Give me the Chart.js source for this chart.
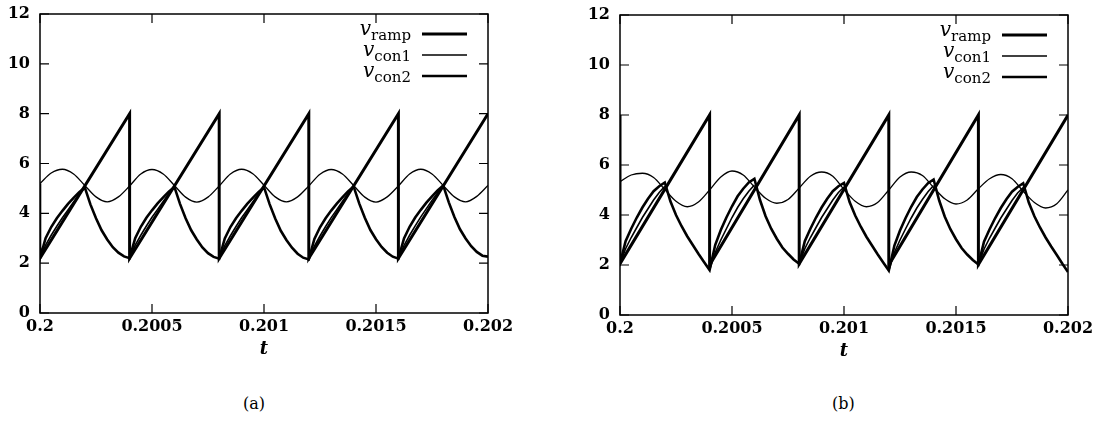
<!DOCTYPE html>
<html>
<head>
<meta charset="utf-8">
<script src="https://cdn.jsdelivr.net/npm/chart.js@4.4.1/dist/chart.umd.min.js"></script>
<style>
  body { margin: 0; background: #fff; width: 1094px; height: 427px; overflow: hidden; position: relative; }
  .panel { position: absolute; top: 0; }
  .cap { position: absolute; top: 394px; font: 16px "DejaVu Serif", serif; color: #000; }
</style>
</head>
<body>
<div class="panel" style="left:0px"><canvas id="chartA" width="540" height="380"></canvas></div>
<div class="panel" style="left:580px"><canvas id="chartB" width="514" height="382"></canvas></div>
<div class="cap" style="left:243px">(a)</div>
<div class="cap" style="left:832px">(b)</div>
<script>
/***************************************************/
/******************** DATA *************************/
/***************************************************/
const xTicks = [0.2, 0.2005, 0.201, 0.2015, 0.202];
const xTickLabels = ['0.2', '0.2005', '0.201', '0.2015', '0.202'];
const yTicks = [0, 2, 4, 6, 8, 10, 12];
const yTickLabels = ['0', '2', '4', '6', '8', '10', '12'];

// sampling of the curves
const T0 = 0.2;
const STEP_FINE = 0.000025;   // v_con2 and the thin branch
const STEP_CON1 = 0.00005;    // v_con1

// panel (a)
const rampTa = [0.2, 0.2004, 0.2004, 0.2008, 0.2008, 0.2012, 0.2012, 0.2016, 0.2016, 0.202];
const rampVa = [2.2, 8.0, 2.2, 8.0, 2.2, 8.0, 2.2, 8.0, 2.2, 8.0];
const con2aStart = 5.2;
const con2a = [
  2.2, 3.0, 3.45, 3.8, 4.1, 4.38, 4.62, 4.85, 5.04, 4.36, 3.8, 3.32, 2.95, 2.64, 2.42, 2.27,
  2.2, 3.0, 3.46, 3.82, 4.12, 4.4, 4.64, 4.87, 5.06, 4.38, 3.8, 3.32, 2.95, 2.63, 2.4, 2.25,
  2.18, 2.99, 3.45, 3.8, 4.1, 4.38, 4.62, 4.85, 5.05, 4.37, 3.79, 3.3, 2.93, 2.62, 2.38, 2.22,
  2.15, 2.97, 3.44, 3.8, 4.11, 4.39, 4.64, 4.88, 5.08, 4.4, 3.82, 3.33, 2.96, 2.65, 2.42, 2.26,
  2.18, 2.99, 3.46, 3.83, 4.14, 4.43, 4.68, 4.92, 5.12, 4.44, 3.85, 3.36, 2.99, 2.68, 2.45, 2.3,
  2.26
];
const branchA = [
  2.2, 2.72, 3.12, 3.48, 3.82, 4.14, 4.46, 4.77, 5.04, null, null, null, null, null, null, null,
  2.2, 2.72, 3.12, 3.49, 3.84, 4.16, 4.48, 4.79, 5.06, null, null, null, null, null, null, null,
  2.18, 2.7, 3.1, 3.47, 3.82, 4.14, 4.46, 4.77, 5.05, null, null, null, null, null, null, null,
  2.15, 2.68, 3.09, 3.47, 3.83, 4.15, 4.48, 4.79, 5.08, null, null, null, null, null, null, null,
  2.18, 2.71, 3.12, 3.5, 3.86, 4.19, 4.52, 4.83, 5.12, null, null, null, null, null, null, null,
  null
];
const con1a = [
  5.2, 5.62, 5.77, 5.58, 5.12, 4.66, 4.46, 4.66,
  5.1, 5.58, 5.76, 5.58, 5.12, 4.65, 4.45, 4.65,
  5.1, 5.58, 5.77, 5.59, 5.13, 4.66, 4.46, 4.66,
  5.1, 5.57, 5.76, 5.58, 5.12, 4.65, 4.45, 4.66,
  5.1, 5.58, 5.77, 5.58, 5.12, 4.66, 4.46, 4.68,
  5.12
];

// panel (b)
const rampTb = [0.2, 0.2, 0.2004, 0.2004, 0.2008, 0.2008, 0.2012, 0.2012, 0.2016, 0.2016, 0.202];
const rampVb = [8.0, 2.05, 8.0, 2.0, 8.0, 2.05, 8.0, 2.0, 8.0, 2.02, 8.0];
const con2b = [
  2.05, 2.95, 3.45, 3.9, 4.3, 4.65, 4.95, 5.15, 5.3, 4.55, 4.0, 3.55, 3.15, 2.8, 2.45, 2.12,
  1.8, 2.8, 3.4, 3.9, 4.35, 4.75, 5.05, 5.3, 5.45, 4.6, 3.95, 3.45, 3.05, 2.7, 2.45, 2.22,
  2.05, 2.95, 3.45, 3.9, 4.3, 4.65, 4.95, 5.15, 5.28, 4.52, 3.98, 3.53, 3.13, 2.78, 2.43, 2.1,
  1.78, 2.78, 3.38, 3.88, 4.33, 4.72, 5.02, 5.27, 5.42, 4.58, 3.93, 3.43, 3.03, 2.68, 2.42, 2.2,
  2.02, 2.93, 3.43, 3.88, 4.28, 4.63, 4.93, 5.12, 5.27, 4.5, 3.95, 3.5, 3.1, 2.74, 2.4, 2.05,
  1.72
];
const branchB = [
  2.05, 2.65, 3.1, 3.5, 3.9, 4.25, 4.6, 4.9, 5.15, null, null, null, null, null, null, null,
  1.8, 2.5, 3.0, 3.45, 3.9, 4.3, 4.65, 4.95, 5.2, null, null, null, null, null, null, null,
  2.05, 2.65, 3.1, 3.5, 3.9, 4.25, 4.6, 4.9, 5.12, null, null, null, null, null, null, null,
  1.78, 2.5, 3.0, 3.45, 3.88, 4.28, 4.62, 4.93, 5.18, null, null, null, null, null, null, null,
  2.02, 2.63, 3.08, 3.48, 3.88, 4.23, 4.58, 4.88, 5.1, null, null, null, null, null, null, null,
  null
];
const con1b = [
  5.33, 5.6, 5.67, 5.5, 5.02, 4.55, 4.33, 4.52,
  5.0, 5.52, 5.76, 5.6, 5.12, 4.67, 4.47, 4.62,
  5.08, 5.55, 5.72, 5.55, 5.02, 4.55, 4.33, 4.5,
  5.0, 5.52, 5.72, 5.58, 5.1, 4.65, 4.44, 4.6,
  5.05, 5.45, 5.62, 5.45, 4.95, 4.5, 4.28, 4.45,
  5.0
];

const legendNames = ['ramp', 'con1', 'con2'];
const legendWidths = [3, 1.4, 2.6];

/***************************************************/
/******************** HELPERS **********************/
/***************************************************/
const FONT = '"DejaVu Serif", serif';

function sampled(values, step) {
    return values.map((v, i) => ({ x: T0 + i * step, y: v }));
}

function paired(ts, vs) {
    return ts.map((t, i) => ({ x: t, y: vs[i] }));
}

// box, inward ticks on all four sides, and the legend with subscripts
const framePlugin = {
    id: 'frame',
    afterDraw(chart) {
        const ctx = chart.ctx;
        const a = chart.chartArea;
        const xs = chart.scales.x, ys = chart.scales.y;
        ctx.save();
        ctx.strokeStyle = '#000';
        ctx.lineWidth = 1.5;
        ctx.strokeRect(a.left, a.top, a.right - a.left, a.bottom - a.top);
        ctx.lineWidth = 1.2;
        ctx.beginPath();
        xTicks.forEach(v => {
            const px = xs.getPixelForValue(v);
            ctx.moveTo(px, a.bottom); ctx.lineTo(px, a.bottom - 9);
            ctx.moveTo(px, a.top); ctx.lineTo(px, a.top + 9);
        });
        yTicks.forEach(v => {
            const py = ys.getPixelForValue(v);
            ctx.moveTo(a.left, py); ctx.lineTo(a.left + 9, py);
            ctx.moveTo(a.right, py); ctx.lineTo(a.right - 9, py);
        });
        ctx.stroke();

        // legend
        const rows = [20, 41, 62];
        ctx.fillStyle = '#000';
        ctx.textBaseline = 'alphabetic';
        legendNames.forEach((name, i) => {
            const y = a.top + rows[i];
            ctx.lineWidth = legendWidths[i];
            ctx.beginPath();
            ctx.moveTo(a.right - 66, y);
            ctx.lineTo(a.right - 21, y);
            ctx.stroke();

            ctx.font = '15px ' + FONT;
            const wSub = ctx.measureText(name).width;
            const xEnd = a.right - 77;
            ctx.fillText(name, xEnd - wSub, y + 6);
            ctx.font = 'italic 20px ' + FONT;
            const wV = ctx.measureText('v').width;
            ctx.fillText('v', xEnd - wSub - wV, y + 1);
        });
        ctx.restore();
    }
};

function drawPanel(canvasId, ramp, con1, con2, branch, topPad, rightPad) {
    const datasets = [
        { label: 'v_ramp', data: ramp, borderColor: '#000', borderWidth: 3, tension: 0 },
        { label: 'v_con1', data: con1, borderColor: '#000', borderWidth: 1.3, cubicInterpolationMode: 'monotone' },
        { label: 'v_con2', data: con2, borderColor: '#000', borderWidth: 2.6, tension: 0 },
        { label: '', data: branch, borderColor: '#000', borderWidth: 1.6, tension: 0, spanGaps: false }
    ];

    const options = {
        responsive: false,
        animation: false,
        events: [],
        layout: { padding: { left: 0, top: topPad, right: rightPad, bottom: 0 } },
        elements: { point: { radius: 0 }, line: { borderCapStyle: 'butt', borderJoinStyle: 'miter' } },
        plugins: { legend: { display: false }, tooltip: { enabled: false } },
        scales: {
            x: {
                type: 'linear',
                min: 0.2,
                max: 0.202,
                afterBuildTicks: s => { s.ticks = xTicks.map(v => ({ value: v })); },
                afterFit: s => { s.height = 67; s.paddingLeft = 0; s.paddingRight = 0; },
                ticks: {
                    callback: (v, i) => xTickLabels[i],
                    font: { family: FONT, size: 16, weight: 'bold' },
                    color: '#000',
                    padding: 4,
                    maxRotation: 0,
                    autoSkip: false
                },
                grid: { display: false, drawTicks: false },
                border: { display: false },
                title: {
                    display: true,
                    text: 't',
                    color: '#000',
                    font: { family: FONT, size: 18, style: 'italic', weight: 'bold' },
                    padding: { top: 0, bottom: 20 }
                }
            },
            y: {
                min: 0,
                max: 12,
                afterBuildTicks: s => { s.ticks = yTicks.map(v => ({ value: v })); },
                afterFit: s => { s.width = 40; s.paddingTop = 0; s.paddingBottom = 0; },
                ticks: {
                    callback: (v, i) => yTickLabels[i],
                    font: { family: FONT, size: 16, weight: 'bold' },
                    color: '#000',
                    padding: 10
                },
                grid: { display: false, drawTicks: false },
                border: { display: false }
            }
        }
    };

    const ctx = document.getElementById(canvasId).getContext('2d');
    return new Chart(ctx, { type: 'line', data: { datasets: datasets }, options: options, plugins: [framePlugin] });
}

/***************************************************/
/******************** CHARTS ***********************/
/***************************************************/
const con2aPoints = [{ x: T0, y: con2aStart }].concat(sampled(con2a, STEP_FINE));

drawPanel('chartA', paired(rampTa, rampVa), sampled(con1a, STEP_CON1), con2aPoints, sampled(branchA, STEP_FINE), 14, 52);
drawPanel('chartB', paired(rampTb, rampVb), sampled(con1b, STEP_CON1), sampled(con2b, STEP_FINE), sampled(branchB, STEP_FINE), 15, 26);
</script>
</body>
</html>
